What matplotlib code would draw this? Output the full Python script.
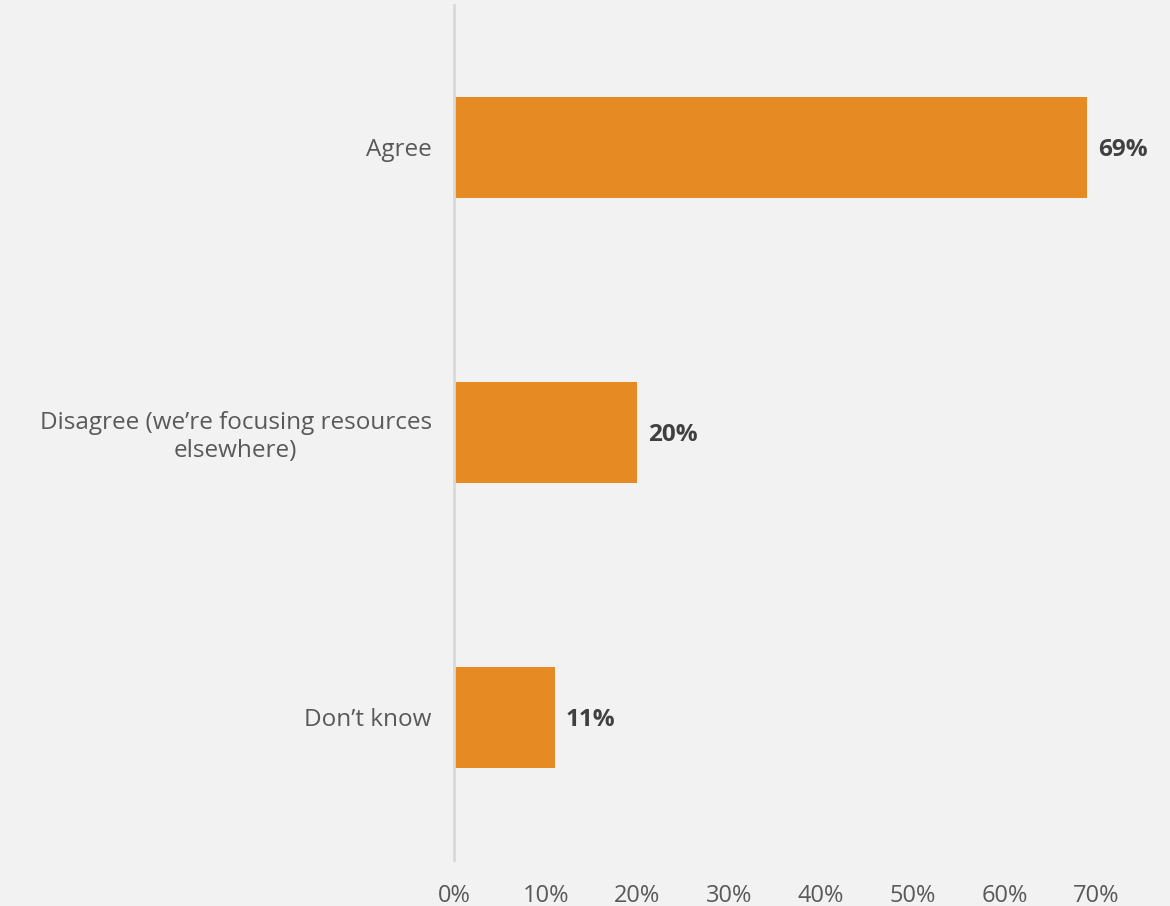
import matplotlib.pyplot as plt

categories = ["Agree", "Disagree (we\u2019re focusing resources\nelsewhere)", "Don\u2019t know"]
values = [69, 20, 11]
xticks = [0, 10, 20, 30, 40, 50, 60, 70]

BG = "#f2f2f2"
BAR = "#e68a23"

plt.rcParams["font.family"] = ["Open Sans", "DejaVu Sans"]

fig = plt.figure(figsize=(11.7, 9.06), dpi=100, facecolor=BG)
ax = fig.add_axes([0.388, 0.0508, 0.5488, 0.9437])
ax.set_facecolor(BG)

ypos = list(range(len(categories)))
bars = ax.barh(ypos, values, height=0.354, color=BAR)

# bold value labels just past each bar end
for bar, v in zip(bars, values):
    ax.annotate(f"{v}%", (bar.get_width(), bar.get_y() + bar.get_height() / 2),
                xytext=(8, 0), textcoords="offset points", va="center_baseline", ha="left",
                fontsize=17.5, fontweight="bold", color="#404040")

ax.set_ylim(2.5, -0.5)
ax.set_xlim(0, 70)
ax.set_yticks(ypos)
ax.set_yticklabels(categories, fontsize=17.5, color="#595959")
for t in ax.get_yticklabels():
    t.set_multialignment("center")
    t.set_linespacing(1.2)
ax.set_xticks(xticks)
ax.set_xticklabels([f"{x}%" for x in xticks], fontsize=17, color="#595959")
ax.tick_params(axis="both", length=0)
ax.tick_params(axis="y", pad=16)
ax.tick_params(axis="x", pad=17)

for side in ["top", "right", "bottom"]:
    ax.spines[side].set_visible(False)
ax.spines["left"].set_color("#d9d9d9")
ax.spines["left"].set_linewidth(2)

fig.savefig("out.png", dpi=100, facecolor=BG)
